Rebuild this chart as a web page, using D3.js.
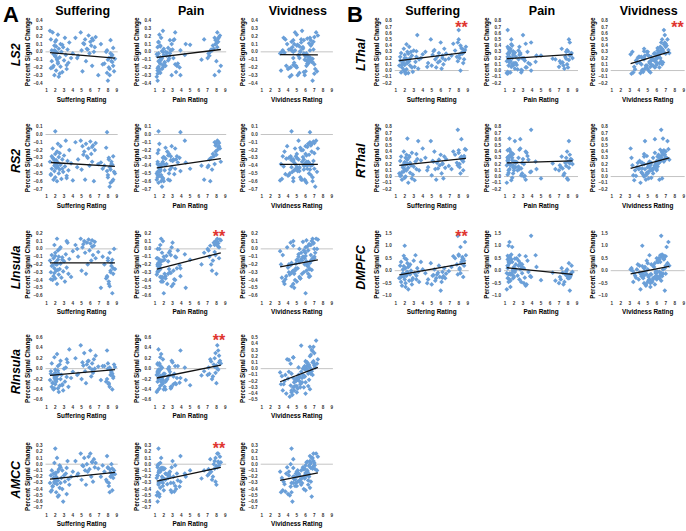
<!DOCTYPE html>
<html><head><meta charset="utf-8">
<script src="https://cdn.jsdelivr.net/npm/d3@7"></script>
<style>
body{margin:0;background:#fff}
svg{display:block}
text{font-family:"Liberation Sans",Arial,sans-serif}
</style>
</head><body>
<svg id="chart" width="686" height="531"></svg>
<script>
// ---------- DATA (one entry per stimulus item) ----------
const columnNames = ["Suffering","Pain","Vividness"];
const sufferingRating = [
1.4,1.5,1.6,1.6,1.7,1.8,1.8,1.9,1.9,2.0, 2.0,2.0,2.1,2.1,2.2,2.2,2.3,2.3,2.4,2.4,
2.5,2.6,2.6,2.7,2.8,2.9,3.0,3.1,3.2,3.3, 3.4,3.5,3.6,3.8,4.0,1.7,2.1,2.5,1.5,2.0,
2.3,2.8,3.3,1.9,2.2,
7.6,7.9,8.0,8.1,8.2,8.3,8.4,8.5,8.6,8.7, 7.8,8.0,8.2,8.4,8.6,7.4,8.1,8.3,8.5,7.9, 8.8,7.2,
4.3,4.6,4.9,5.0,5.1,5.3,5.4,5.5,5.6,5.8, 5.9,6.0,6.1,6.2,6.3,6.4,6.5,6.6,4.5,5.2, 5.7,6.2,6.9];
const painRating = [
1.9,1.3,2.8,1.5,3.3,1.2,2.2,1.6,3.9,1.4, 2.6,1.8,1.3,3.1,1.7,2.4,1.5,3.6,1.2,2.0,
1.6,2.9,1.4,1.9,3.4,1.3,2.5,1.7,4.4,1.5, 3.0,2.1,1.4,1.8,2.7,3.8,1.6,1.3,3.2,2.3,
1.5,5.0,1.9,2.8,6.3,
1.6,3.9,1.3,3.1,1.8,2.7,1.4,2.0,3.5,1.5, 2.2,1.7,2.9,1.3,2.5,3.3,1.9,1.4,2.1,1.6, 2.6,4.5,
7.8,7.2,8.1,7.5,8.3,7.9,6.6,8.0,7.7,8.4, 7.1,8.2,7.6,8.5,7.9,7.3,8.1,8.3,7.0,8.0, 7.4,8.2,7.8];
const vividnessRating = [
5.6,4.1,3.4,6.2,4.8,5.9,3.8,6.6,5.1,4.4, 6.0,5.4,3.2,4.6,6.8,3.6,5.0,6.3,4.2,5.7,
6.5,3.9,4.9,3.3,5.8,4.5,6.1,3.5,5.2,4.0, 6.9,4.7,5.5,6.4,3.1,4.3,5.3,7.0,3.7,6.0,
6.7,5.1,4.6,4.4,5.9,
6.2,6.5,6.8,4.6,7.1,5.8,6.5,6.0,4.9,7.3, 5.4,6.6,4.4,6.3,5.6,7.0,5.0,6.1,6.8,5.3, 6.4,4.7,
6.5,5.2,7.2,4.8,6.0,6.7,5.5,6.3,4.3,7.4, 5.8,6.9,5.0,6.1,6.6,4.6,5.7,7.0,5.3,6.4, 4.1,6.2,5.9];

// percent signal change per region
const pscLS2 = [
0.27,-0.21,0.02,-0.12,0.25,-0.03,-0.18,0.08,-0.30,0.13, -0.06,0.01,-0.24,0.15,-0.09,-0.01,0.22,-0.15,-0.32,0.04,
-0.07,0.10,-0.19,0.00,-0.26,0.06,-0.11,0.18,-0.04,-0.22, 0.03,-0.14,0.12,-0.08,-0.02,-0.20,0.07,-0.28,0.16,-0.05,
-0.13,0.09,-0.17,0.02,-0.10,
-0.15,0.02,-0.37,-0.08,-0.22,0.15,-0.12,-0.04,-0.18,-0.25, 0.00,-0.10,-0.30,-0.06,0.05,-0.16,-0.20,-0.02,-0.13,-0.27, -0.09,0.10,
0.18,-0.05,0.25,0.02,-0.25,0.10,0.16,-0.12,0.04,0.21, -0.02,0.13,0.08,-0.18,0.15,0.00,0.06,0.19,-0.08,0.11, 0.03,0.17,-0.30];
const pscRS2 = [
-0.35,-0.52,-0.28,-0.44,-0.18,-0.58,-0.31,-0.40,-0.47,0.04, -0.25,-0.55,-0.38,-0.33,-0.60,-0.22,-0.42,-0.36,-0.50,-0.29,
-0.45,-0.15,-0.39,-0.57,-0.32,-0.48,-0.27,-0.41,-0.08,-0.53, -0.34,-0.46,-0.20,-0.37,-0.59,-0.30,-0.43,-0.24,-0.51,-0.38,
-0.12,-0.44,-0.56,-0.33,-0.40,
-0.40,0.03,-0.55,-0.32,-0.67,-0.45,-0.38,-0.60,-0.28,-0.48, -0.17,-0.52,-0.42,-0.35,-0.58,-0.44,-0.30,-0.62,-0.39,-0.47, -0.50,-0.36,
-0.10,-0.32,-0.08,-0.45,-0.15,-0.22,-0.58,-0.12,-0.28,-0.18, -0.40,-0.09,-0.25,-0.35,-0.14,-0.60,-0.20,-0.11,-0.42,-0.26, -0.30,-0.16,-0.38];
const pscLInsula = [
-0.15,-0.30,-0.08,-0.22,-0.40,-0.12,-0.35,0.05,-0.25,-0.18, -0.05,-0.38,-0.20,-0.28,0.13,-0.45,-0.14,-0.02,-0.33,-0.10,
-0.26,0.02,-0.19,-0.37,-0.11,-0.29,-0.16,-0.42,-0.07,-0.24, 0.08,-0.32,-0.13,-0.36,-0.03,-0.21,-0.17,0.00,-0.39,-0.09,
-0.27,-0.14,0.10,-0.31,-0.20,
-0.20,-0.35,-0.12,-0.45,-0.05,-0.30,-0.18,-0.57,-0.25,0.00, -0.38,-0.15,-0.48,-0.22,-0.32,-0.10,-0.42,-0.28,-0.14,-0.36, -0.26,-0.50,
0.05,-0.10,0.13,-0.28,0.02,0.10,-0.05,-0.32,0.08,0.12, -0.02,0.07,-0.15,0.11,-0.08,0.04,0.09,-0.12,0.00,0.06, -0.20,0.03,-0.04];
const pscRInsula = [
-0.22,-0.05,-0.35,0.10,-0.28,-0.12,-0.40,0.22,-0.18,-0.08, -0.02,-0.30,-0.25,-0.15,0.28,-0.20,-0.38,0.05,-0.45,-0.10,
-0.33,0.15,-0.20,-0.12,-0.30,-0.42,0.00,-0.25,0.02,-0.16, 0.12,-0.35,0.37,-0.18,-0.06,-0.27,-0.14,0.08,-0.10,-0.22,
-0.04,-0.32,0.18,-0.38,-0.13,
0.05,0.35,0.10,-0.30,0.02,-0.12,-0.05,-0.40,-0.18,0.08, -0.25,0.00,-0.35,-0.08,-0.15,0.05,-0.28,-0.02,-0.10,-0.20, 0.03,-0.22,
0.20,-0.10,0.45,-0.20,0.12,0.30,-0.05,-0.28,0.08,0.15, 0.02,0.35,-0.15,0.10,-0.08,0.18,0.00,0.25,-0.12,0.06, 0.14,-0.02,0.04];
const pscAMCC = [
-0.30,-0.18,-0.42,-0.10,-0.35,-0.22,-0.15,0.02,-0.28,0.25, -0.14,-0.25,-0.45,-0.20,0.10,-0.32,-0.12,-0.26,-0.50,-0.08,
-0.38,-0.05,-0.30,-0.22,-0.40,-0.60,-0.18,-0.28,-0.15,-0.48, 0.05,-0.24,-0.33,-0.20,-0.12,-0.36,-0.27,-0.02,-0.44,-0.16,
-0.52,-0.10,-0.06,-0.30,-0.23,
-0.12,0.13,-0.05,-0.30,-0.08,-0.20,0.00,-0.42,-0.15,-0.10, -0.25,-0.06,-0.45,-0.18,-0.22,-0.02,-0.35,-0.13,-0.07,-0.28, -0.16,-0.20,
0.05,-0.15,0.17,-0.25,-0.02,0.10,-0.10,-0.33,0.00,0.12, -0.08,0.17,-0.20,0.03,-0.28,0.08,-0.05,0.02,-0.18,-0.03, -0.12,0.04,-0.07];
const pscLThal = [
0.08,0.22,-0.03,0.28,0.05,0.15,0.12,0.35,0.00,0.20, 0.25,0.10,-0.05,0.18,0.42,0.02,0.30,0.12,-0.04,0.27,
0.15,0.20,0.08,0.30,0.05,-0.02,0.32,0.06,0.14,0.22, 0.57,0.03,0.18,0.20,0.26,0.10,-0.03,0.38,0.16,0.09,
0.13,0.24,0.31,0.01,0.19,
0.32,0.45,0.65,0.20,0.40,0.28,0.35,0.12,0.30,0.33, 0.22,0.50,0.00,0.27,0.18,0.43,0.25,0.36,0.29,0.15, 0.38,0.24,
0.30,0.12,0.50,0.08,0.25,0.33,0.18,0.05,0.22,0.28, 0.15,0.45,0.03,0.20,0.10,0.35,0.17,0.27,0.06,0.31, 0.13,0.24,0.19];
const pscRThal = [
0.05,0.25,0.02,0.32,-0.05,0.18,0.15,0.40,0.08,0.22, 0.12,-0.02,0.30,0.00,0.35,0.10,0.20,0.27,-0.10,0.14,
0.33,0.22,0.06,0.18,0.38,0.03,0.16,-0.06,0.24,0.12, 0.28,0.57,0.10,0.26,0.45,0.07,0.19,0.31,0.01,0.23,
0.61,-0.03,0.36,0.13,0.21,
0.35,0.75,0.42,0.20,0.30,0.60,0.28,0.10,0.33,0.44, 0.22,0.38,0.05,0.26,0.30,0.40,0.15,0.32,0.24,0.18, 0.43,0.12,
0.30,0.15,0.57,0.02,0.25,0.40,0.12,-0.05,0.22,0.27, 0.18,0.35,0.05,0.20,-0.03,0.32,0.14,0.28,0.10,0.24, 0.13,0.21,0.17];
const pscDMPFC = [
-0.30,0.20,-0.45,0.35,-0.60,-0.10,0.05,0.60,-0.25,1.00, -0.35,-0.15,0.10,-0.50,0.45,-0.20,0.30,-0.05,-0.75,0.15,
-0.40,0.25,-0.15,0.00,-0.55,-0.30,0.40,-0.10,0.62,-0.35, 0.10,-0.05,-0.45,0.35,0.05,-0.22,-0.65,0.20,-0.28,0.50,
-0.12,-0.38,-0.20,0.18,-0.08,
0.50,1.40,0.60,0.10,0.95,0.30,0.55,-0.25,0.40,1.15, 0.25,0.65,-0.10,0.45,0.20,0.58,0.05,0.35,0.48,-0.15, 0.62,0.15,
-0.10,-0.35,0.30,-0.55,-0.20,0.05,-0.40,-0.30,-0.15,0.20, -0.25,-0.80,-0.45,-0.05,-0.22,0.10,-0.30,-0.12,-0.50,-0.18, -0.08,-0.28,-0.02];

// region names, y axis [min, max, step] per column
const regionNamesA = ["LS2","RS2","LInsula","RInsula","AMCC"];
const regionNamesB = ["LThal","RThal","DMPFC"];
const yAxes = {
  LS2:[[-0.4,0.4,0.1],[-0.4,0.4,0.1],[-0.4,0.4,0.1]],
  RS2:[[-0.7,0.1,0.1],[-0.7,0.1,0.1],[-0.7,0.1,0.1]],
  LInsula:[[-0.6,0.2,0.1],[-0.6,0.2,0.1],[-0.6,0.2,0.1]],
  RInsula:[[-0.6,0.6,0.2],[-0.6,0.6,0.2],[-0.5,0.5,0.1]],
  AMCC:[[-0.7,0.3,0.1],[-0.7,0.3,0.1],[-0.7,0.3,0.1]],
  LThal:[[-0.2,0.8,0.1],[-0.2,0.8,0.1],[-0.2,0.8,0.1]],
  RThal:[[-0.2,0.8,0.1],[-0.2,0.8,0.1],[-0.2,0.8,0.1]],
  DMPFC:[[-1.0,1.5,0.5],[-1.0,1.5,0.5],[-1.0,1.5,0.5]]
};
// linear trend lines: [xStart, yStart, xEnd, yEnd] per column
const trendLines = {
  LS2:[[1.4,-0.01,8.8,-0.08],[1.2,-0.07,8.5,0.03],[3.1,-0.035,7.4,-0.04]],
  RS2:[[1.5,-0.36,8.8,-0.41],[1.2,-0.43,8.5,-0.31],[3.1,-0.385,7.4,-0.385]],
  LInsula:[[1.4,-0.18,8.8,-0.18],[1.2,-0.26,8.5,-0.05],[3.1,-0.23,7.4,-0.14]],
  RInsula:[[1.4,-0.13,8.8,-0.02],[1.2,-0.18,8.5,0.07],[3.1,-0.21,7.4,0.02]],
  AMCC:[[1.4,-0.24,8.8,-0.13],[1.2,-0.27,8.5,-0.05],[3.1,-0.26,7.4,-0.14]],
  LThal:[[1.4,0.16,8.8,0.29],[1.2,0.19,8.5,0.26],[3.1,0.11,7.4,0.30]],
  RThal:[[1.4,0.18,8.8,0.29],[1.2,0.22,8.5,0.25],[3.1,0.13,7.4,0.30]],
  DMPFC:[[1.4,-0.17,8.8,0.30],[1.2,0.12,8.5,-0.15],[3.1,-0.13,7.4,0.17]]
};
// significant correlations (**): [region, column index]
const significant = [["LInsula",1],["RInsula",1],["AMCC",1],["LThal",0],["LThal",2],["DMPFC",0]];

const regionData = {LS2:pscLS2,RS2:pscRS2,LInsula:pscLInsula,RInsula:pscRInsula,AMCC:pscAMCC,
  LThal:pscLThal,RThal:pscRThal,DMPFC:pscDMPFC};
const ratings = [sufferingRating, painRating, vividnessRating];

// ---------- LAYOUT ----------
const svg = d3.select("#chart");
const plotH = 62.3;
const panels = [
  {letter:"A", letterX:3, regions:regionNamesA, cols:[46.5,155,261.7], w:70.2,
   rows:[20.7,126.7,233.3,337.5,445.5], labelX:20},
  {letter:"B", letterX:347, regions:regionNamesB, cols:[395.7,505,611.7], w:72,
   rows:[20.7,126.7,233.3], labelX:365}
];
const starOffset = {LThal:3.5};
const pointColor = "#6a9fd8";
const marker = d3.symbol().type(d3.symbolSquare).size(11);

panels.forEach(p => {
  svg.append("text").attr("x",p.letterX).attr("y",21.5)
    .attr("font-size",22).attr("font-weight","bold").text(p.letter);
  p.cols.forEach((left,ci) => {
    svg.append("text").attr("x",left+p.w/2+1).attr("y",15)
      .attr("text-anchor","middle").attr("font-size",12.5).attr("font-weight","bold")
      .text(columnNames[ci]);
  });
  p.regions.forEach((reg,ri) => {
    const top = p.rows[ri], bottom = top+plotH;
    svg.append("text")
      .attr("transform",`translate(${p.labelX},${top+plotH/2+3}) rotate(-90)`)
      .attr("text-anchor","middle").attr("font-size",12.5).attr("font-weight","bold")
      .attr("font-style","italic").text(reg);
    p.cols.forEach((left,ci) => {
      const [ymin,ymax,step] = yAxes[reg][ci];
      const x = d3.scaleLinear().domain([1,9]).range([left,left+p.w]);
      const y = d3.scaleLinear().domain([ymin,ymax]).range([bottom,top]);
      const g = svg.append("g");
      // zero line
      g.append("line").attr("x1",x(1)-1).attr("x2",x(9)+1).attr("y1",y(0)).attr("y2",y(0))
        .attr("stroke","#c4c4c4").attr("stroke-width",1);
      // y tick labels
      const yt = d3.range(Math.round((ymax-ymin)/step)+1).map(i => ymin+i*step);
      g.selectAll("text.yt").data(yt).join("text")
        .attr("x",left-4).attr("y",d=>y(d)).attr("dy","0.35em")
        .attr("text-anchor","end").attr("font-size",4.6).attr("font-weight","bold").attr("fill","#333")
        .text(d=>d3.format(".1f")(Math.abs(d)<1e-9?0:d));
      // x tick labels
      g.selectAll("text.xt").data(d3.range(1,10)).join("text")
        .attr("x",d=>x(d)).attr("y",bottom+7.3).attr("dy","0.35em")
        .attr("text-anchor","middle").attr("font-size",4.6).attr("font-weight","bold").attr("fill","#333")
        .text(d=>d);
      // axis titles
      g.append("text").attr("x",left+p.w/2).attr("y",bottom+18.6)
        .attr("text-anchor","middle").attr("font-size",6.4).attr("font-weight","bold")
        .text(columnNames[ci]+" Rating");
      g.append("text")
        .attr("transform",`translate(${left-16.5},${top+plotH/2}) rotate(-90)`)
        .attr("text-anchor","middle").attr("font-size",6.3).attr("font-weight","bold")
        .text("Percent Signal Change");
      // points
      const pts = regionData[reg].map((v,i)=>[ratings[ci][i],v]);
      g.selectAll("path.pt").data(pts).join("path")
        .attr("transform",d=>`translate(${x(d[0])},${y(d[1])}) rotate(45)`)
        .attr("d",marker).attr("fill",pointColor);
      // trend line
      const t = trendLines[reg][ci];
      g.append("line").attr("x1",x(t[0])).attr("y1",y(t[1])).attr("x2",x(t[2])).attr("y2",y(t[3]))
        .attr("stroke","#111").attr("stroke-width",1.3);
      // significance
      if (significant.some(s=>s[0]===reg && s[1]===ci)) {
        g.append("text").attr("x",x(8.3)).attr("y",top+8.5+(starOffset[reg]||0))
          .attr("text-anchor","middle").attr("font-size",16).attr("font-weight","bold")
          .attr("fill","#e0352f").text("**");
      }
    });
  });
});
</script>
</body></html>
